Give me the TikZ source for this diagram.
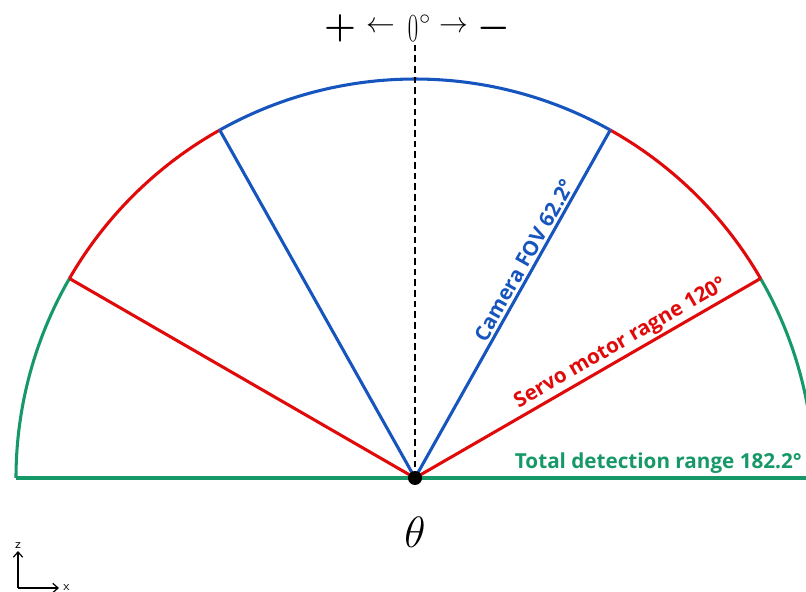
\documentclass[tikz,border=0pt]{standalone}
\usepackage{amsmath,amssymb}
\usepackage{bm}
\usepackage{fontspec}
\usepackage{tikz}
\usetikzlibrary{arrows.meta,positioning}
\newfontfamily\rangefont{Open Sans}
\definecolor{fovBlue}{RGB}{22,84,190}
\definecolor{servoRed}{RGB}{224,10,10}
\definecolor{totalGreen}{RGB}{22,152,104}

\begin{document}
\begin{tikzpicture}[x=0.75pt,y=0.75pt,
    rangeline/.style={line width=2.3pt},
    rangelabel/.style={font=\rangefont\bfseries\fontsize{15.5}{18}\selectfont, inner sep=1.5pt},
    axisarrow/.style={line width=0.9pt, -{Straight Barb[length=4pt,width=7pt]}}]
    \useasboundingbox (0,0) rectangle (806,592);
    \clip (0,0) rectangle (806,592);

    % centre and arc points
    \coordinate (O) at (415,114);
    \path (O) ++(0:399) coordinate (gR)
          (O) ++(30:399) coordinate (sR)
          (O) ++(60.7:399) coordinate (cR)
          (O) ++(119.3:399) coordinate (cL)
          (O) ++(150:399) coordinate (sL)
          (O) ++(180:399) coordinate (gL);
    \coordinate (top) at (415,547);

    % total detection range
    \draw[totalGreen, rangeline] (gL) -- (gR);
    \draw[totalGreen, rangeline] (gR) arc[start angle=0, end angle=30, radius=399];
    \draw[totalGreen, rangeline] (sL) arc[start angle=150, end angle=180, radius=399];

    % servo motor range
    \draw[servoRed, rangeline] (sR) arc[start angle=30, end angle=60.7, radius=399];
    \draw[servoRed, rangeline] (cL) arc[start angle=119.3, end angle=150, radius=399];
    \draw[servoRed, rangeline] (O) -- (sL);
    \draw[servoRed, rangeline] (O) -- node[rangelabel, pos=0.615, sloped, above] (servolabel) {Servo motor ragne 120°} (sR);

    % camera field of view
    \draw[fovBlue, rangeline] (cR) arc[start angle=60.7, end angle=119.3, radius=399];
    \draw[fovBlue, rangeline] (O) -- (cL);
    \draw[fovBlue, rangeline] (O) -- node[rangelabel, pos=0.61, sloped, above] (fovlabel) {Camera FOV 62.2°} (cR);

    \node[rangelabel, text=totalGreen, anchor=base east] (totallabel) at (804,123) {Total detection range 182.2°};

    % zero direction
    \draw[line width=2pt, dash pattern=on 5pt off 3pt] (O) -- (top);
    \fill (O) circle[radius=7];

    % labels
    \node (plus) at (340,564) {\huge\scalebox{1.32}{$\bm{+}$}};
    \node (larrow) at (381,565) {\LARGE\scalebox{1.25}{$\leftarrow$}};
    \node (zero) at (413,563) {\Huge\scalebox{0.68}[1.2]{$0$}};
    \node[anchor=west, inner sep=0pt] (deg) at (419,572) {\large\scalebox{1.35}{$\circ$}};
    \node (rarrow) at (454,565) {\LARGE\scalebox{1.25}{$\rightarrow$}};
    \node (minus) at (494,564) {\huge\scalebox{1.32}{$\bm{-}$}};
    \node (theta) at (415,60) {\Huge\scalebox{1.32}{$\theta$}};

    % axis icon
    \coordinate (ax0) at (18,4);
    \coordinate (axz) at (18,41);
    \coordinate (axx) at (59,4);
    \draw[axisarrow] (ax0) -- (axz);
    \draw[axisarrow] (ax0) -- (axx);
    \node[font=\sffamily\fontsize{10}{11}\selectfont, inner sep=1pt, above=0.5pt of axz] (zlabel) {z};
    \node[font=\sffamily\fontsize{10}{11}\selectfont, inner sep=1pt, right=2pt of axx] (xlabel) {x};
\end{tikzpicture}
\end{document}
